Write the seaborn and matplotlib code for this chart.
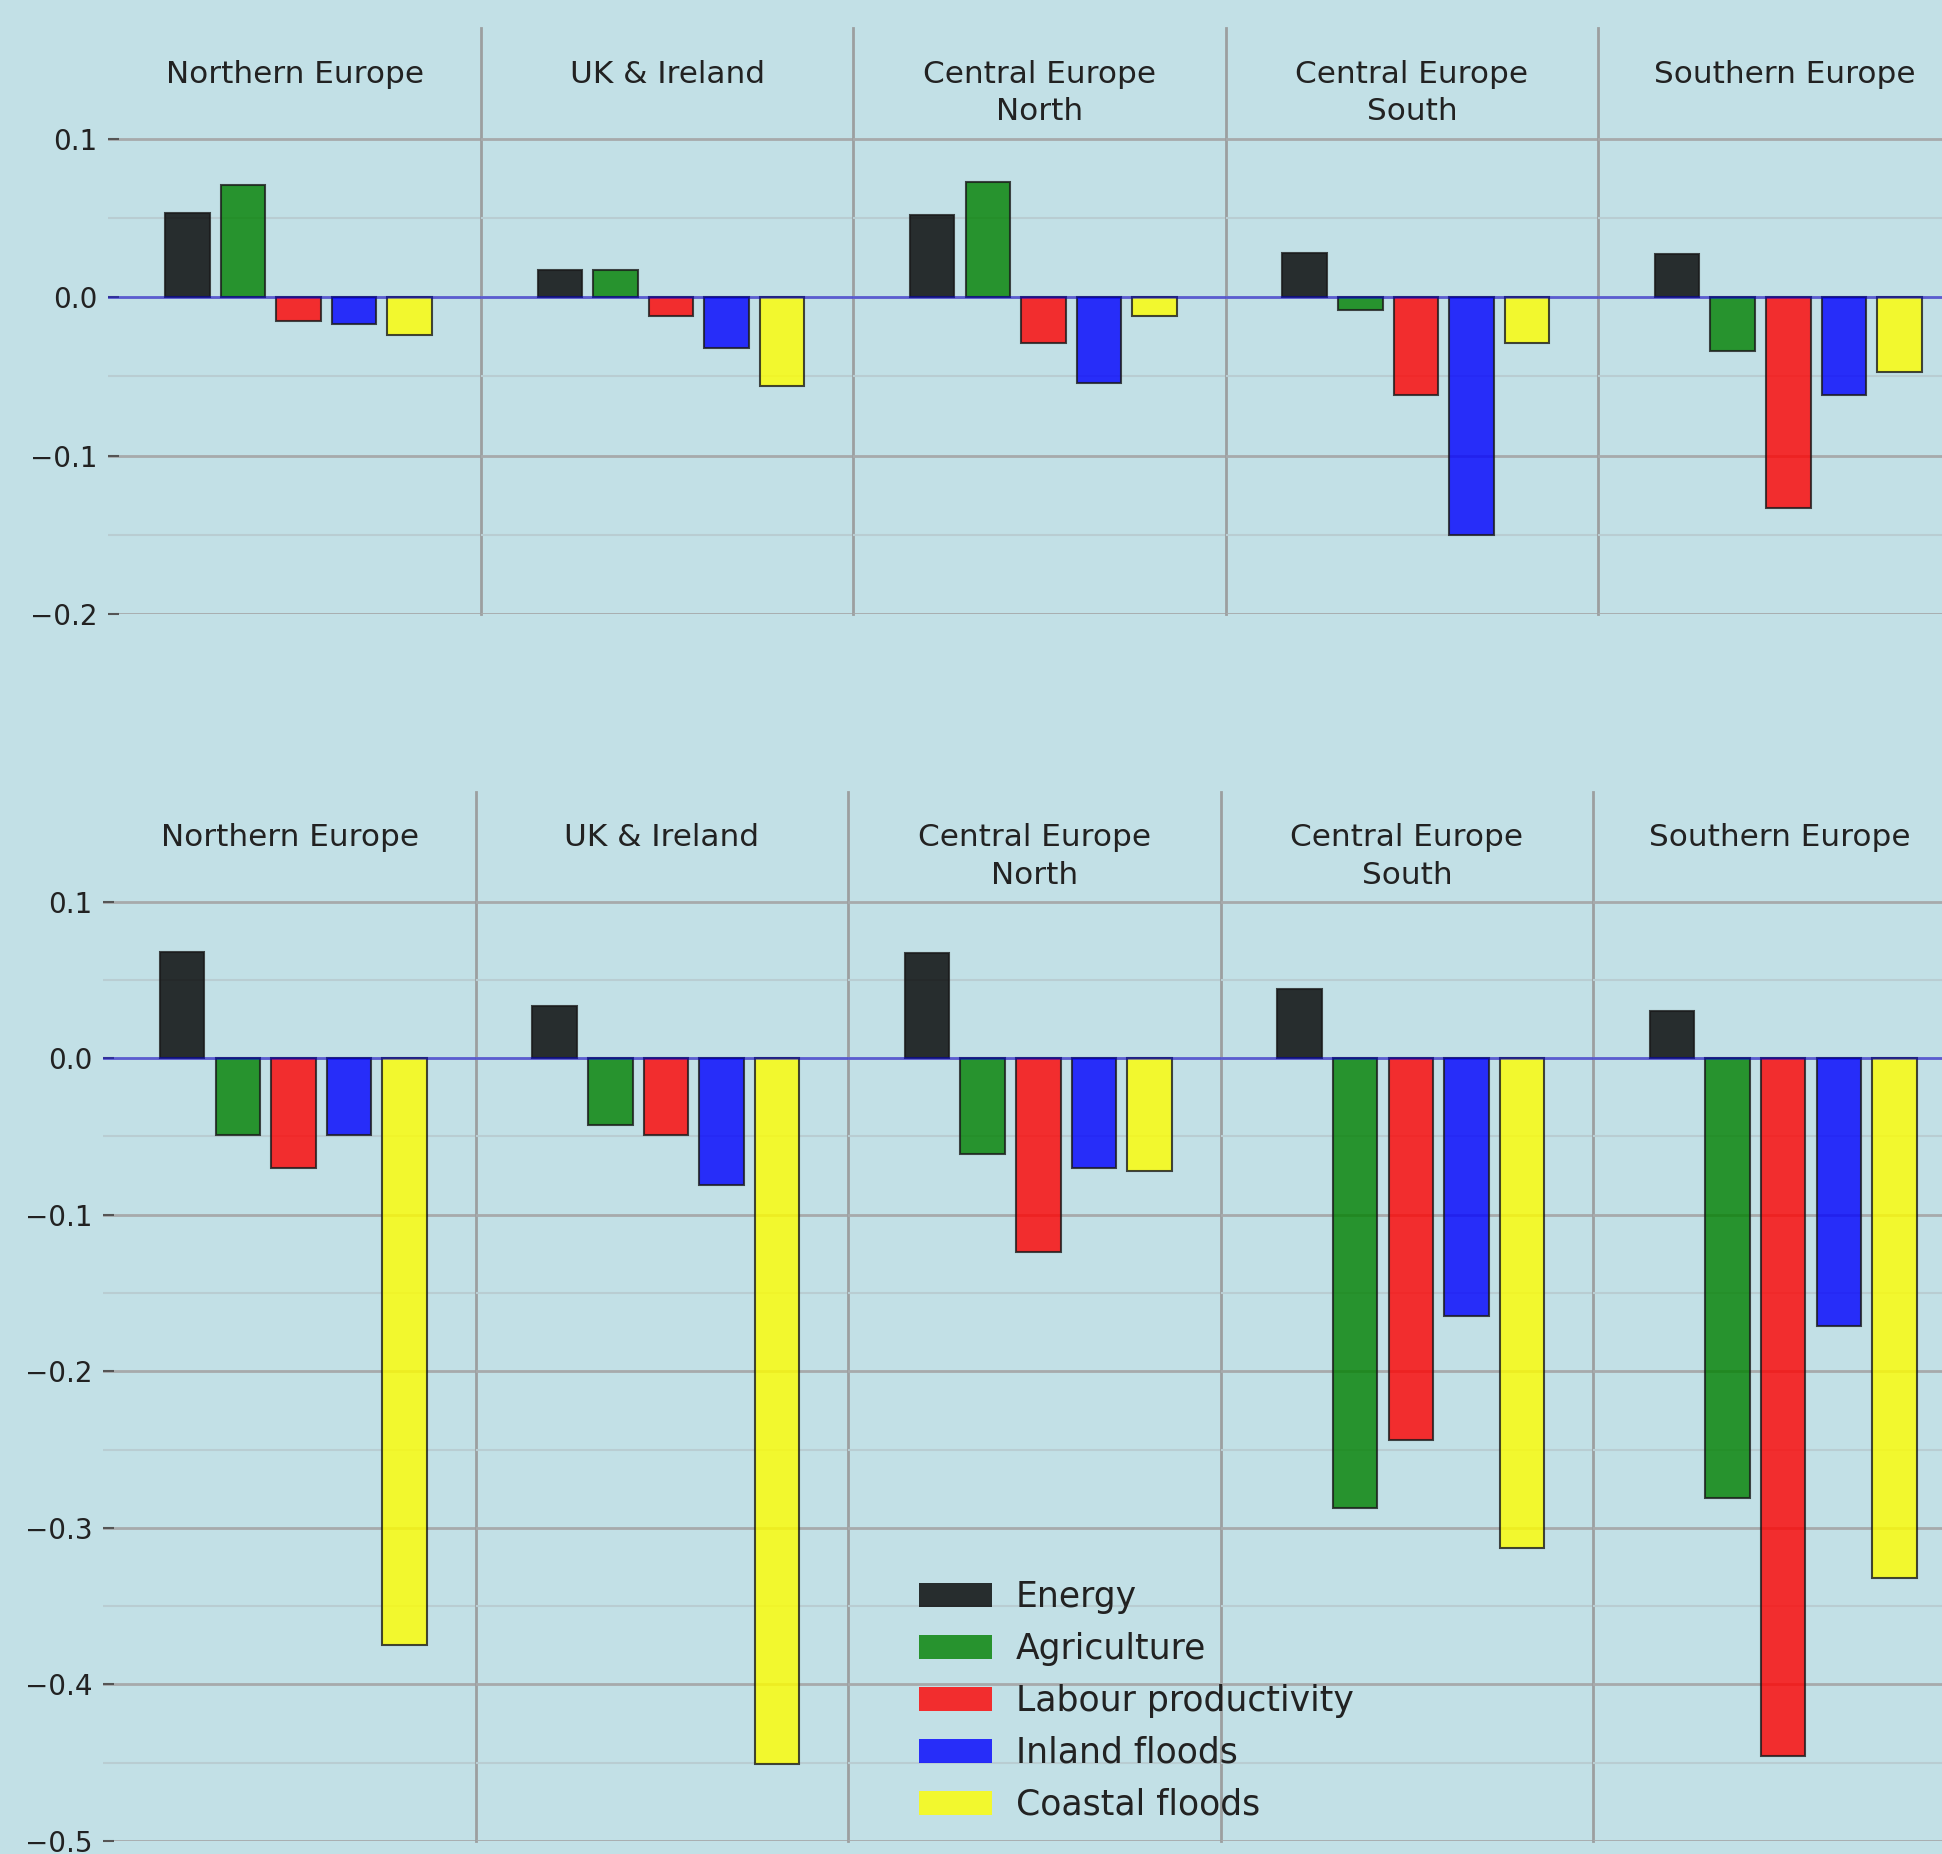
import matplotlib
matplotlib.use("Agg")
import matplotlib.pyplot as plt
import matplotlib.transforms as mtransforms
from matplotlib.patches import Patch
import pandas as pd
import seaborn as sns

# ---------------- data ----------------
regions = ["Northern Europe", "UK & Ireland", "Central Europe\nNorth",
           "Central Europe\nSouth", "Southern Europe"]
sectors = ["Energy", "Agriculture", "Labour productivity", "Inland floods", "Coastal floods"]

# upper panel row
energy_top      = [0.053, 0.017, 0.052, 0.028, 0.027]
agriculture_top = [0.071, 0.017, 0.073, -0.008, -0.034]
labour_top      = [-0.015, -0.012, -0.029, -0.062, -0.133]
inland_top      = [-0.017, -0.032, -0.054, -0.150, -0.062]
coastal_top     = [-0.024, -0.056, -0.012, -0.029, -0.047]

# lower panel row
energy_bot      = [0.068, 0.033, 0.067, 0.044, 0.030]
agriculture_bot = [-0.049, -0.043, -0.061, -0.287, -0.281]
labour_bot      = [-0.070, -0.049, -0.124, -0.244, -0.446]
inland_bot      = [-0.049, -0.081, -0.070, -0.165, -0.171]
coastal_bot     = [-0.375, -0.451, -0.072, -0.313, -0.332]

top_major = [0.1, 0.0, -0.1, -0.2]
top_minor = [0.05, -0.05, -0.15]
bot_major = [0.1, 0.0, -0.1, -0.2, -0.3, -0.4, -0.5]
bot_minor = [0.05, -0.05, -0.15, -0.25, -0.35, -0.45]

colors = ["#000000", "#008000", "#ff0000", "#0000ff", "#ffff00"]

# ---------------- style ----------------
sns.set_theme(style="white")
plt.rcParams['font.family'] = ['DejaVu Sans']

BG = '#c2e0e6'
TXT = '#222222'
W, H = 1942, 1854
fig = plt.figure(figsize=(W / 100, H / 100), dpi=100, facecolor=BG)

PANEL_W = 372.45


def draw_row(series, left0, top_px, bottom_px, ymin, major, minor):
    axes = []
    for i, region in enumerate(regions):
        ax = fig.add_axes([(left0 + i * PANEL_W) / W, 1 - bottom_px / H,
                           PANEL_W / W, (bottom_px - top_px) / H])
        ax.patch.set_visible(False)
        df = pd.DataFrame({'sector': sectors, 'value': [s[i] for s in series]})
        sns.barplot(data=df, x='sector', y='value', hue='sector', order=sectors,
                    hue_order=sectors, palette=colors, saturation=1, alpha=0.8,
                    edgecolor='k', linewidth=1.5, width=0.8, legend=False,
                    errorbar=None, ax=ax)
        ax.set_xlim(-1.42, 5.28)
        ax.set_ylim(ymin, 0.17)
        ax.set_yticks(major)
        ax.set_yticks(minor, minor=True)
        ax.set_xticks([])
        ax.set_xlabel('')
        ax.set_ylabel('')
        ax.grid(False)
        ax.grid(which='major', axis='y', color='#a7aaab', lw=2)
        ax.grid(which='minor', axis='y', color='#b9cdd2', lw=1.5)
        ax.set_axisbelow(True)
        ax.axhline(0, color='#0000ff', alpha=0.45, lw=2, zorder=5)
        for side in ['left', 'top', 'bottom']:
            ax.spines[side].set_visible(False)
        ax.spines['right'].set_visible(True)
        ax.spines['right'].set_color('#9c9fa0')
        ax.spines['right'].set_linewidth(2)
        if i == 0:
            ax.tick_params(axis='y', which='major', direction='in', length=8,
                           width=1.5, color='#555555', pad=8, labelsize=20,
                           labelcolor=TXT, left=True)
            ax.set_yticklabels([f"{v:.1f}".replace('-', '\u2212') for v in major])
        else:
            ax.tick_params(axis='y', which='major', length=0, labelleft=False)
        ax.tick_params(axis='y', which='minor', length=0)
        trans = mtransforms.blended_transform_factory(ax.transAxes, ax.transData)
        ax.text(0.5, 0.15, region, transform=trans, ha='center', va='top',
                fontsize=22.4, color=TXT, linespacing=1.38)
        axes.append(ax)
    return axes


draw_row([energy_top, agriculture_top, labour_top, inland_top, coastal_top],
         108.4, 28, 614, -0.2, top_major, top_minor)
draw_row([energy_bot, agriculture_bot, labour_bot, inland_bot, coastal_bot],
         103.3, 792, 1841, -0.5, bot_major, bot_minor)

handles = [Patch(facecolor=c, alpha=0.8, edgecolor='none', label=s)
           for c, s in zip(colors, sectors)]
fig.legend(handles=handles, loc='upper left', bbox_to_anchor=(919 / W, 1 - 1580 / H),
           frameon=False, fontsize=24.9, borderpad=0, borderaxespad=0,
           handlelength=2.1, handleheight=0.7, handletextpad=0.7,
           labelspacing=0.52, labelcolor=TXT)

fig.savefig('out.png', dpi=100, facecolor=BG)
